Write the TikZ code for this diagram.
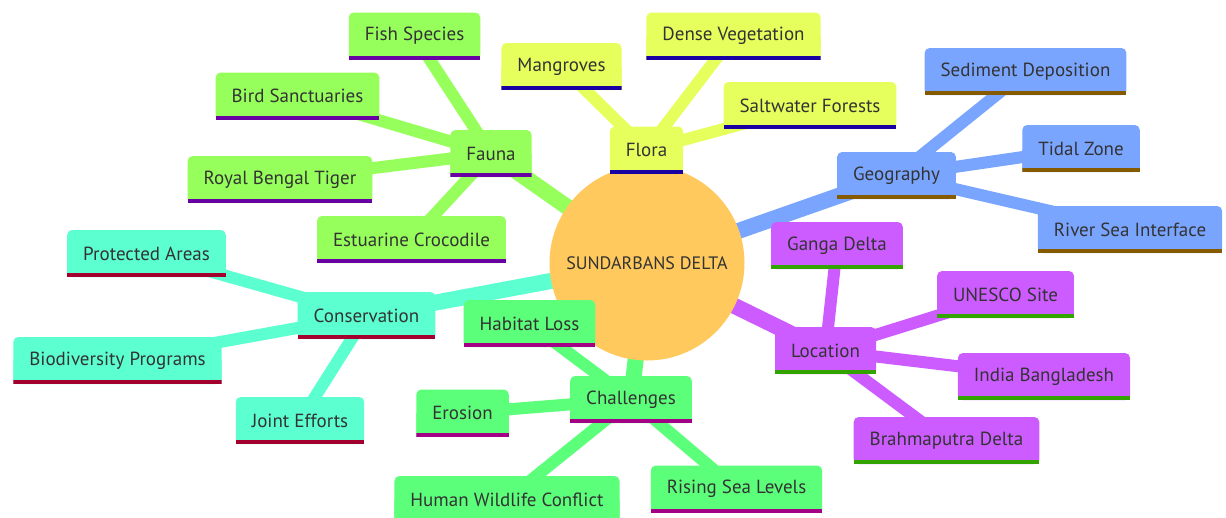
\documentclass[tikz,border=0pt]{standalone}
\usepackage{fontspec}
\setmainfont{PT Sans}
\usetikzlibrary{backgrounds}

\definecolor{rootC}{HTML}{FFC95E}
\definecolor{faunaC}{HTML}{96FF5C}
\definecolor{faunaU}{HTML}{6900A3}
\definecolor{floraC}{HTML}{E6FF5C}
\definecolor{floraU}{HTML}{1900A3}
\definecolor{geoC}{HTML}{7AA5FF}
\definecolor{geoU}{HTML}{855A00}
\definecolor{locC}{HTML}{CC5CFF}
\definecolor{locU}{HTML}{33A300}
\definecolor{chalC}{HTML}{5CFF7A}
\definecolor{chalU}{HTML}{A30085}
\definecolor{consC}{HTML}{5CFFD0}
\definecolor{consU}{HTML}{A3002F}
\definecolor{txt}{HTML}{333333}

\newcommand{\mapfont}{\fontsize{19}{22}\selectfont}

\tikzset{
  topic/.style 2 args={minimum height=47, inner xsep=16, text=txt, font=\mapfont,
    path picture={
      \fill[#1, rounded corners=5pt] (path picture bounding box.south west) rectangle (path picture bounding box.north east);
      \fill[#1] (path picture bounding box.south west) rectangle (path picture bounding box.east);
      \fill[#2] (path picture bounding box.south west) rectangle ([yshift=4pt]path picture bounding box.south east);
    }},
  stem/.style={draw=#1, line width=16},
  twig/.style={draw=#1, line width=12},
}

\begin{document}
\begin{tikzpicture}[x=1pt, y=-1pt]
\useasboundingbox (0,0) rectangle (1226,517);

\node[circle, fill=rootC, minimum size=195, text=txt, font=\fontsize{18}{20}\selectfont] (root) at (647,263) {SUNDARBANS DELTA};

% fauna
\node[topic={faunaC}{faunaU}] (fauna) at (491,153.5) {Fauna};
\node[topic={faunaC}{faunaU}] (fish) at (414.5,36) {Fish Species};
\node[topic={faunaC}{faunaU}] (birds) at (297.5,96) {Bird Sanctuaries};
\node[topic={faunaC}{faunaU}] (tiger) at (280,179.5) {Royal Bengal Tiger};
\node[topic={faunaC}{faunaU}] (croc) at (411.5,239.5) {Estuarine Crocodile};

% flora
\node[topic={floraC}{floraU}] (flora) at (646.5,150) {Flora};
\node[topic={floraC}{floraU}] (mangr) at (561.5,66.5) {Mangroves};
\node[topic={floraC}{floraU}] (dense) at (733.5,36) {Dense Vegetation};
\node[topic={floraC}{floraU}] (salt) at (810,105.5) {Saltwater Forests};

% geography
\node[topic={geoC}{geoU}] (geo) at (896.5,175.5) {Geography};
\node[topic={geoC}{geoU}] (sedi) at (1025.5,71.5) {Sediment Deposition};
\node[topic={geoC}{geoU}] (tidal) at (1081,148.5) {Tidal Zone};
\node[topic={geoC}{geoU}] (river) at (1130,229.5) {River Sea Interface};

% location
\node[topic={locC}{locU}] (loc) at (825.5,350.5) {Location};
\node[topic={locC}{locU}] (ganga) at (837,245.5) {Ganga Delta};
\node[topic={locC}{locU}] (unesco) at (1005.5,294.5) {UNESCO Site};
\node[topic={locC}{locU}] (india) at (1044,376.5) {India Bangladesh};
\node[topic={locC}{locU}] (brahma) at (946.5,440.5) {Brahmaputra Delta};

% challenges
\node[topic={chalC}{chalU}] (chal) at (631,399.5) {Challenges};
\node[topic={chalC}{chalU}] (habitat) at (529.5,323.5) {Habitat Loss};
\node[topic={chalC}{chalU}] (erosion) at (462.5,413) {Erosion};
\node[topic={chalC}{chalU}] (human) at (507,499.5) {Human Wildlife Conflict};
\node[topic={chalC}{chalU}] (rising) at (736.5,489) {Rising Sea Levels};

% conservation
\node[topic={consC}{consU}] (cons) at (366.5,315.5) {Conservation};
\node[topic={consC}{consU}] (protect) at (146.5,253.5) {Protected Areas};
\node[topic={consC}{consU}] (biodiv) at (117.5,360.5) {Biodiversity Programs};
\node[topic={consC}{consU}] (joint) at (300,420.5) {Joint Efforts};

\begin{pgfonlayer}{background}
\path
(root.center) edge[stem=faunaC] (fauna.center)
(root.center) edge[stem=floraC] (flora.center)
(root.center) edge[stem=geoC] (geo.center)
(root.center) edge[stem=locC] (loc.center)
(root.center) edge[stem=chalC] (chal.center)
(root.center) edge[stem=consC] (cons.center);
\path[twig=faunaC]
(fauna.center) edge (fish.center)
(fauna.center) edge (birds.center)
(fauna.center) edge (tiger.center)
(fauna.center) edge (croc.center);
\path[twig=floraC]
(flora.center) edge (mangr.center)
(flora.center) edge (dense.center)
(flora.center) edge (salt.center);
\path[twig=geoC]
(geo.center) edge (sedi.center)
(geo.center) edge (tidal.center)
(geo.center) edge (river.center);
\path[twig=locC]
(loc.center) edge (ganga.center)
(loc.center) edge (unesco.center)
(loc.center) edge (india.center)
(loc.center) edge (brahma.center);
\path[twig=chalC]
(chal.center) edge (habitat.center)
(chal.center) edge (erosion.center)
(chal.center) edge (human.center)
(chal.center) edge (rising.center);
\path[twig=consC]
(cons.center) edge (protect.center)
(cons.center) edge (biodiv.center)
(cons.center) edge (joint.center);
\end{pgfonlayer}
\end{tikzpicture}
\end{document}
